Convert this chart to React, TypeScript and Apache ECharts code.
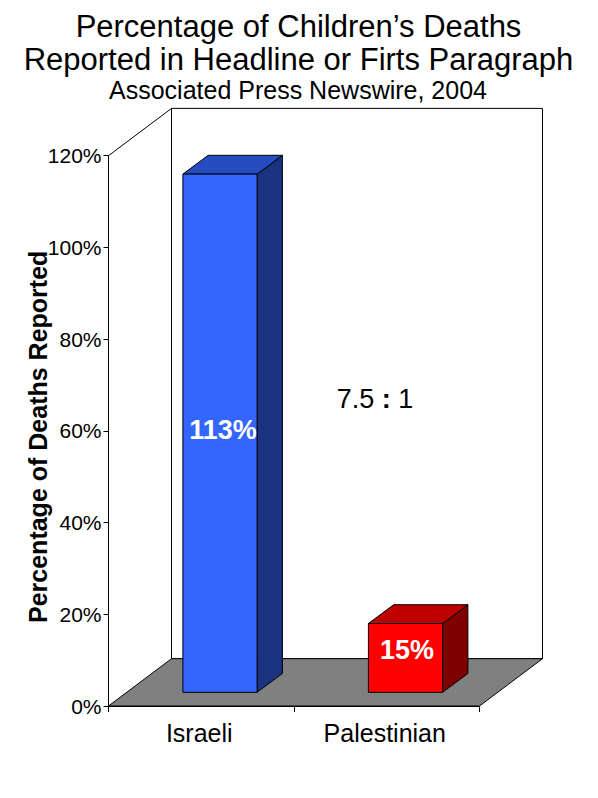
import React, { useEffect, useRef } from "react";
import * as echarts from "echarts";

const titleText = "Percentage of Children\u2019s Deaths\nReported in Headline or Firts Paragraph";
const subtitleText = "Associated Press Newswire, 2004";
const yAxisTitle = "Percentage of Deaths Reported";
const categories = ["Israeli", "Palestinian"];
const values = [113, 15];
const valueLabels = ["113%", "15%"];
const frontColors = ["#3366FF", "#FF0000"];
const topColors = ["#264DBF", "#BF0000"];
const sideColors = ["#1A3380", "#800000"];

const FONT = '"Liberation Sans", Arial, sans-serif';
// projection of the 3D box
const wallDX = 63;
const wallDY = -47.3;
const barDX = 25.3;
const barDY = -18.8;
const barShiftX = 18.75;
const barShiftY = -13.7;
const labelShiftX = [3, 1.5];
const labelShiftY = [-3, -8];

const renderWalls = (params: any) => {
  const { x, y, width, height } = params.coordSys;
  const l = x;
  const r = x + width;
  const t = y;
  const b = y + height;
  const line = { stroke: "#000", lineWidth: 1 };
  return {
    type: "group",
    children: [
      {
        type: "polygon",
        shape: { points: [[l + wallDX, t + wallDY], [r + wallDX, t + wallDY], [r + wallDX, b + wallDY], [l + wallDX, b + wallDY]] },
        style: { fill: "#fff", ...line },
      },
      {
        type: "polygon",
        shape: { points: [[l, b], [l + wallDX, b + wallDY], [r + wallDX, b + wallDY], [r, b]] },
        style: { fill: "#808080", ...line },
      },
      { type: "line", shape: { x1: l, y1: t, x2: l + wallDX, y2: t + wallDY }, style: line },
    ],
  };
};

const renderBar = (params: any, api: any) => {
  const i = params.dataIndex;
  const top = api.coord([api.value(0), api.value(1)]);
  const base = api.coord([api.value(0), 0]);
  const w = (api.size([1, 0])[0] as number) * 0.4;
  const x0 = top[0] + barShiftX - w / 2;
  const x1 = x0 + w;
  const yT = top[1] + barShiftY;
  const yB = base[1] + barShiftY;
  const line = { stroke: "#000", lineWidth: 1 };
  return {
    type: "group",
    children: [
      {
        type: "polygon",
        shape: { points: [[x1, yT], [x1 + barDX, yT + barDY], [x1 + barDX, yB + barDY], [x1, yB]] },
        style: { fill: sideColors[i], ...line },
      },
      {
        type: "polygon",
        shape: { points: [[x0, yT], [x0 + barDX, yT + barDY], [x1 + barDX, yT + barDY], [x1, yT]] },
        style: { fill: topColors[i], ...line },
      },
      {
        type: "rect",
        shape: { x: x0, y: yT, width: w, height: yB - yT },
        style: { fill: frontColors[i], ...line },
      },
      {
        type: "text",
        style: {
          text: valueLabels[i],
          x: (x0 + x1) / 2 + labelShiftX[i],
          y: (yT + yB) / 2 + labelShiftY[i],
          align: "center",
          verticalAlign: "middle",
          fill: "#fff",
          font: `bold 27px ${FONT}`,
        },
      },
    ],
  };
};

export default function App() {
  const ref = useRef<HTMLDivElement>(null);
  useEffect(() => {
    const chart = echarts.init(ref.current!, undefined, { renderer: "svg" });
    chart.setOption({
      animation: false,
      backgroundColor: "#fff",
      title: [
        {
          text: titleText,
          left: 298.5,
          top: 10,
          padding: 0,
          textAlign: "center",
          textStyle: { fontFamily: FONT, fontSize: 31, fontWeight: "normal", color: "#000", lineHeight: 33 },
        },
        {
          text: subtitleText,
          left: 298,
          top: 77,
          padding: 0,
          textAlign: "center",
          textStyle: { fontFamily: FONT, fontSize: 25, fontWeight: "normal", color: "#000" },
        },
      ],
      grid: { left: 108.5, top: 155.7, width: 371, height: 550.3 },
      xAxis: {
        type: "category",
        data: categories,
        z: 5,
        axisLine: { lineStyle: { color: "#000", width: 1 } },
        axisTick: { show: true, length: 6, alignWithLabel: false, lineStyle: { color: "#000" } },
        axisLabel: { color: "#000", fontFamily: FONT, fontSize: 25, margin: 14, padding: [0, 4, 0, 0] },
      },
      yAxis: {
        type: "value",
        min: 0,
        max: 120,
        interval: 20,
        z: 5,
        name: yAxisTitle,
        nameLocation: "middle",
        nameGap: 58,
        nameMoveOverlap: false,
        nameTextStyle: { color: "#000", fontFamily: FONT, fontSize: 25, fontWeight: "bold", padding: [0, 0, 0, -12] },
        axisLine: { show: true, lineStyle: { color: "#000", width: 1 } },
        axisTick: { show: true, length: 5, lineStyle: { color: "#000" } },
        splitLine: { show: false },
        axisLabel: { color: "#000", fontFamily: FONT, fontSize: 21, margin: 7, formatter: "{value}%" },
      },
      series: [
        { type: "custom", z: 1, silent: true, renderItem: renderWalls, data: [[0, 0]] },
        {
          type: "custom",
          z: 3,
          silent: true,
          renderItem: renderBar,
          encode: { x: 0, y: 1 },
          data: categories.map((_, i) => [i, values[i]]),
        },
      ],
      graphic: [
        {
          type: "text",
          x: 375,
          y: 399,
          z: 10,
          style: {
            text: "{a|7.5 }{b|:}{a| 1}",
            align: "center",
            verticalAlign: "middle",
            rich: {
              a: { fontFamily: FONT, fontSize: 27, fill: "#000", color: "#000" },
              b: { fontFamily: FONT, fontSize: 27, fontWeight: "bold", fill: "#000", color: "#000" },
            },
          },
        },
      ],
    });
    return () => chart.dispose();
  }, []);
  return <div ref={ref} style={{ position: "absolute", left: 0, top: 0, width: 598, height: 798 }} />;
}
